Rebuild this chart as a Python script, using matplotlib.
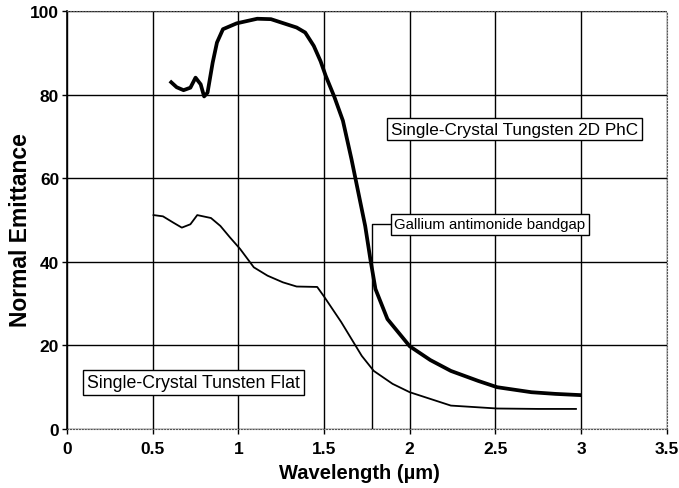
import matplotlib.pyplot as plt
import numpy as np

plt.rcParams['font.family'] = ['Liberation Sans', 'DejaVu Sans']

# 2D photonic crystal tungsten (thick curve)
phc_wl = [0.60, 0.64, 0.68, 0.72, 0.75, 0.78, 0.80, 0.82, 0.85, 0.875, 0.91,
          0.99, 1.11, 1.19, 1.34, 1.39, 1.44, 1.48, 1.51, 1.56, 1.61,
          1.66, 1.70, 1.74, 1.77, 1.80, 1.87, 2.00, 2.12, 2.24, 2.40, 2.51,
          2.71, 2.85, 3.00]
phc_em = [83.3, 81.8, 81.1, 81.7, 84.1, 82.5, 79.6, 80.5, 87.7, 92.5, 95.7,
          97.1, 98.2, 98.1, 96.1, 94.9, 91.7, 88.0, 84.5, 79.5, 73.8,
          64.6, 56.6, 48.6, 40.7, 33.5, 26.3, 19.8, 16.5, 13.9, 11.5, 10.0,
          8.8, 8.4, 8.1]

# flat single-crystal tungsten (thin curve)
flat_wl = [0.505, 0.56, 0.62, 0.67, 0.72, 0.76, 0.84, 0.895, 0.95, 1.01, 1.09,
           1.17, 1.26, 1.34, 1.46, 1.50, 1.60, 1.72, 1.79, 1.90, 2.00, 2.24,
           2.51, 2.75, 2.97]
flat_em = [51.2, 50.9, 49.4, 48.2, 49.0, 51.2, 50.5, 48.6, 45.9, 43.1, 38.7,
           36.7, 35.1, 34.1, 34.0, 31.7, 25.6, 17.5, 13.9, 10.8, 8.8, 5.6,
           4.9, 4.8, 4.8]

gasb_gap = 1.78

fig = plt.figure(figsize=(6.79, 4.89), dpi=100)
ax = fig.add_axes([0.0987, 0.1207, 0.8833, 0.8543])

ax.set_xlim(0, 3.5)
ax.set_ylim(0, 100)
ax.set_xticks(np.arange(0, 3.51, 0.5))
ax.set_xticklabels(['0', '0.5', '1', '1.5', '2', '2.5', '3', '3.5'])
ax.set_yticks(np.arange(0, 101, 20))
ax.grid(True, color='black', linewidth=1.0)
ax.set_axisbelow(True)

for side in ['top', 'right', 'bottom']:
    ax.spines[side].set_linestyle(':')
    ax.spines[side].set_color('#555555')
ax.spines['left'].set_linewidth(1.2)
ax.tick_params(axis='both', direction='out', length=3.6, width=1,
               labelsize=12.5)
ax.tick_params(axis='x', pad=5)
ax.tick_params(axis='y', pad=2)
for lab in ax.get_xticklabels() + ax.get_yticklabels():
    lab.set_fontweight('bold')

ax.plot(phc_wl, phc_em, color='black', linewidth=2.7,
        solid_joinstyle='round', solid_capstyle='butt')
ax.plot(flat_wl, flat_em, color='black', linewidth=1.3,
        solid_joinstyle='round')

# bandgap marker with leader to its label
ax.plot([gasb_gap, gasb_gap, 1.89], [0, 49, 49], color='black', linewidth=1.0)

box = dict(boxstyle='square,pad=0.22', facecolor='white', edgecolor='black',
           linewidth=1.0)
ax.text(2.61, 71.8, 'Single-Crystal Tungsten 2D PhC', fontsize=12.3,
        ha='center', va='center', bbox=box)
ax.text(1.89 + 0.02, 49, 'Gallium antimonide bandgap', fontsize=10.8,
        ha='left', va='center', bbox=box)
ax.text(0.74, 11.2, 'Single-Crystal Tunsten Flat', fontsize=12.8,
        ha='center', va='center', bbox=box)

ax.set_xlabel('Wavelength (µm)', fontsize=14.5, fontweight='bold')
ax.set_ylabel('Normal Emittance', fontsize=16.5, fontweight='bold')
ax.xaxis.set_label_coords(0.487, -0.105)
ax.yaxis.set_label_coords(-0.078, 0.478)
ax.xaxis.label.set_va('center')
ax.yaxis.label.set_va('center')

fig.savefig('out.png', dpi=100)
